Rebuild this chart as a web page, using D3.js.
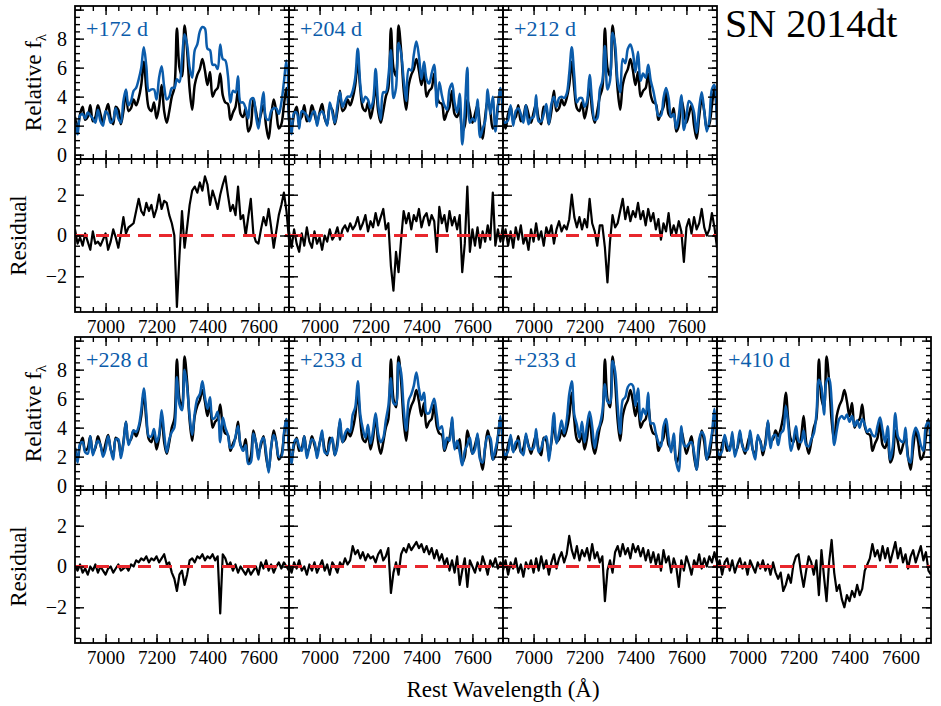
<!DOCTYPE html>
<html><head><meta charset="utf-8">
<script src="https://cdn.jsdelivr.net/npm/d3@7"></script>
<style>
body{margin:0;background:#fff}
svg{display:block}
text{font-family:"Liberation Serif","Times New Roman",serif !important;fill:#000}
</style>
</head><body>
<svg id="chart" width="941" height="706"></svg>
<script>
// ---------------- DATA ----------------
const waveStart = 6880, waveStep = 10;   // wavelength grid (Angstrom)
const epochLabels = ["+172 d", "+204 d", "+212 d", "+228 d", "+233 d", "+233 d", "+410 d"];
const xTicks = [7000, 7200, 7400, 7600];
const fluxTicks = [0, 2, 4, 6, 8];
const residTicks = [-2, 0, 2];

// SN 2014dt observed spectrum (black, same in every panel)
const sn2014dt = [2.6,1.8,2.8,3.3,2.4,2.6,3.4,2.3,2.6,3.4,2.8,2.2,2.9,3.5,2.5,2.1,3.3,3.1,2.1,3.0,
4.4,3.0,3.2,3.8,3.4,3.9,4.8,6.4,4.5,3.2,3.0,3.6,2.5,3.3,4.8,3.0,2.2,3.0,4.0,4.6,
8.7,6.0,5.4,8.9,7.2,4.5,3.1,4.8,5.5,5.9,6.6,5.8,4.8,5.7,4.0,4.4,4.6,5.6,4.1,3.6,
3.5,2.4,2.9,3.3,4.4,2.8,2.6,3.2,1.6,2.0,3.8,3.0,2.2,2.8,3.4,2.0,1.1,2.6,3.8,3.0,
1.8,2.1,3.4,4.6,2.5];

// comparison spectra (blue)
const blue172 = [2.2,1.4,2.7,2.8,2.5,2.9,2.7,2.5,2.2,3.1,2.3,2.0,3.0,2.8,2.2,2.4,3.2,2.5,2.2,3.7,
4.5,3.4,3.7,4.4,4.6,5.2,6.0,7.4,6.1,4.4,4.5,4.5,3.8,5.3,6.1,4.7,3.8,4.0,4.6,4.6,
5.2,5.0,6.6,8.3,7.6,6.0,5.3,7.2,7.6,8.5,8.8,8.7,7.3,7.2,6.2,6.2,5.9,7.6,6.6,6.5,
5.5,3.6,4.4,4.3,5.4,3.6,3.6,3.2,2.5,3.8,3.9,2.7,1.8,3.1,4.3,2.5,2.4,3.0,3.2,3.2,
2.8,3.6,5.0,6.5,2.3];
const blue204 = [2.8,1.4,2.9,2.9,1.8,3.0,2.9,2.7,2.3,2.8,3.0,2.0,2.8,3.0,2.6,2.0,3.6,2.9,2.2,3.4,
4.3,3.3,3.7,4.0,4.0,4.4,5.3,7.3,4.8,3.6,4.0,3.8,3.2,3.7,5.9,3.5,2.4,4.3,4.3,5.4,
7.2,3.9,4.6,7.7,7.0,5.2,3.7,5.9,5.8,6.9,7.8,6.8,5.2,6.4,5.2,4.9,5.6,6.2,3.3,5.0,
4.1,3.4,3.1,4.5,4.9,3.6,2.9,4.2,0.7,3.0,6.0,2.2,2.5,2.3,3.8,1.2,1.8,2.3,4.5,2.8,
4.0,1.6,3.3,4.6,3.0];
const blue212 = [2.3,2.2,2.4,3.4,2.0,3.0,3.2,2.8,2.2,3.4,2.1,2.5,2.6,4.1,2.3,2.3,2.8,3.5,2.1,3.5,
4.0,3.3,3.9,4.0,3.9,4.2,5.6,7.4,5.4,3.6,3.9,3.9,3.3,3.7,5.5,3.6,2.4,2.5,4.5,5.1,
7.5,4.5,5.1,8.4,7.6,5.1,4.3,6.6,6.3,7.3,7.6,7.0,5.7,7.1,5.1,5.6,5.3,6.2,5.1,4.4,
3.5,2.7,2.7,3.9,4.6,3.9,2.6,2.8,1.8,2.7,4.1,1.7,2.6,3.7,3.5,2.9,1.5,3.2,4.3,3.0,
1.6,2.4,4.5,4.8,2.0];
const blue228 = [2.6,1.6,2.9,3.0,2.3,2.2,3.4,2.1,2.7,3.1,2.8,2.0,2.5,3.4,2.5,1.8,3.2,3.2,1.9,2.9,
4.4,2.8,3.3,3.8,3.7,4.1,5.2,6.7,5.0,3.4,3.4,3.9,3.0,3.5,5.2,3.6,2.3,3.2,3.7,4.0,
7.5,5.6,5.2,8.0,6.8,4.8,3.5,5.0,6.0,6.3,7.2,6.1,5.3,6.1,4.6,4.7,5.1,3.0,4.7,4.0,
3.5,2.6,2.7,3.4,4.1,2.8,2.4,2.8,1.5,1.6,3.6,3.0,1.8,3.0,3.3,2.3,0.9,2.7,3.5,3.0,
2.0,2.0,3.6,4.6,2.3];
const blue233a = [2.7,1.5,3.0,3.2,2.7,2.4,3.4,1.9,2.7,3.2,3.0,1.9,2.9,3.8,2.3,2.2,2.9,3.3,2.1,2.7,
4.6,3.0,3.6,3.9,3.7,4.9,5.4,7.2,4.9,3.9,3.3,4.2,2.9,3.8,5.0,3.6,3.0,3.3,4.5,5.5,
7.4,5.7,5.6,8.5,7.8,5.4,3.8,5.9,6.3,6.9,7.8,6.7,5.9,6.4,5.0,5.0,5.5,6.0,4.9,3.9,
4.1,2.5,3.3,3.1,4.7,2.5,3.1,2.3,1.4,2.4,2.8,3.3,2.2,2.5,3.6,1.8,1.6,2.7,3.4,3.3,
1.8,2.5,3.3,4.8,2.5];
const blue233b = [2.4,2.1,2.4,3.5,2.3,3.0,3.1,2.4,2.1,3.6,2.7,2.5,2.6,3.9,2.3,2.6,3.2,3.4,1.7,3.2,
5.0,2.9,3.6,4.5,3.6,4.5,6.3,7.2,4.9,4.2,3.3,4.4,3.0,4.2,5.1,4.1,2.6,3.7,4.2,5.1,
7.0,5.8,5.7,8.6,7.9,5.5,3.6,5.9,6.1,6.8,7.0,6.9,5.5,6.7,4.5,5.3,4.9,6.4,4.3,4.3,
3.6,3.0,2.7,4.1,4.6,3.3,2.3,3.6,1.6,1.0,4.1,2.8,2.7,2.9,3.0,2.3,1.1,3.2,3.7,3.4,
1.8,2.6,3.6,5.3,2.7];
const blue410 = [2.5,2.1,2.4,3.5,2.8,2.4,3.7,2.0,2.7,3.8,2.7,2.4,2.5,3.8,2.5,1.8,3.5,3.0,2.4,2.8,
4.5,2.6,3.4,3.5,2.8,3.6,3.8,5.5,4.1,2.4,3.1,4.1,3.1,3.0,3.8,2.8,2.7,3.2,3.6,4.9,
7.3,6.8,4.9,7.2,7.4,5.8,2.8,3.8,4.6,4.8,4.6,4.9,4.4,4.8,4.1,4.5,4.0,4.6,4.2,3.7,
3.9,3.5,3.4,4.1,4.7,3.8,3.0,4.1,1.8,2.7,5.0,3.4,3.1,3.0,4.0,1.9,1.6,3.4,4.0,3.6,
2.8,2.4,4.1,4.4,2.1];

// residuals
const resid172 = [0.3,-0.4,-0.1,-0.5,0.1,-0.3,-0.7,0.2,-0.4,-0.3,-0.5,-0.2,0.1,-0.7,-0.3,0.3,-0.1,-0.6,0.1,0.9,
0.1,0.4,0.5,0.6,1.2,1.8,1.2,1.0,1.6,1.2,1.5,0.9,1.3,2.0,1.3,1.7,1.6,1.0,0.6,0.0,
-3.5,-1.0,1.2,-0.6,0.4,1.5,2.2,2.4,2.1,2.6,2.2,2.9,2.5,1.5,2.2,1.8,1.3,2.0,2.5,2.9,
2.0,1.2,1.5,1.0,2.4,0.8,1.0,0.0,0.9,1.8,0.1,-0.3,-0.4,0.3,0.9,0.5,1.3,0.4,-0.6,0.2,
1.0,1.5,2.1,1.2,-0.2];
const resid204 = [0.2,-0.6,0.3,-0.4,-0.8,0.1,-0.5,0.4,-0.3,-0.6,0.2,-0.4,-0.1,-0.7,0.0,-0.3,0.3,-0.2,0.0,0.4,
-0.2,0.3,0.5,0.2,0.6,0.3,0.5,0.9,0.3,0.6,1.0,0.2,0.7,0.4,1.1,0.5,0.9,1.3,0.3,0.6,
-1.5,-2.7,-0.8,-1.8,-0.2,1.2,0.6,1.1,0.3,1.0,0.7,1.3,0.4,0.9,1.1,0.5,1.0,0.7,-0.8,1.4,
0.6,1.0,0.2,1.2,0.5,0.9,0.3,1.0,-1.8,-0.4,2.4,-0.8,0.3,-0.5,0.4,-0.6,0.2,-0.3,0.5,-0.2,
2.1,-0.5,0.3,-0.3,0.5];
const resid212 = [-0.3,0.3,-0.5,0.2,-0.6,0.4,-0.2,0.5,-0.4,0.0,-0.7,0.3,-0.3,0.6,-0.2,0.2,-0.5,0.4,0.0,0.5,
-0.4,0.3,0.7,0.2,0.5,0.3,0.8,2.0,0.9,0.4,0.9,0.3,0.8,0.4,1.8,0.6,0.2,-0.5,0.5,0.5,
-0.6,-2.3,-0.3,1.0,0.4,0.6,1.2,1.8,0.8,1.4,0.7,1.2,0.9,1.6,0.8,1.2,0.5,1.3,0.7,1.1,
0.3,0.8,-0.2,0.6,0.2,1.1,0.0,0.5,0.1,0.7,0.2,-1.3,0.4,0.8,0.1,0.9,0.3,0.6,1.3,0.4,
0.0,0.3,1.1,0.4,-0.6];
const resid228 = [0.0,-0.2,0.1,-0.3,-0.1,-0.4,0.0,-0.2,0.1,-0.3,0.0,-0.2,-0.4,-0.1,0.0,-0.3,-0.1,0.1,-0.2,-0.1,
0.0,-0.2,0.1,0.0,0.3,0.2,0.4,0.3,0.5,0.2,0.4,0.3,0.5,0.2,0.4,0.6,0.1,0.2,-0.3,-0.6,
-1.2,-0.4,-0.2,-0.9,-0.4,0.3,0.4,0.2,0.5,0.4,0.6,0.3,0.5,0.4,0.6,0.3,0.5,-2.3,0.6,0.4,
0.0,0.2,-0.2,0.1,-0.3,0.0,-0.2,-0.4,-0.1,-0.4,-0.2,0.0,-0.4,0.2,-0.1,0.3,-0.2,0.1,-0.3,0.0,
0.2,-0.1,0.2,0.0,-0.2];
const resid233a = [0.1,-0.3,0.2,-0.1,0.3,-0.2,0.0,-0.4,0.1,-0.2,0.2,-0.3,0.0,0.3,-0.2,0.1,-0.4,0.2,0.0,-0.3,
0.2,0.0,0.4,0.1,0.3,1.0,0.6,0.8,0.4,0.7,0.3,0.6,0.4,0.5,0.2,0.6,0.8,0.3,0.5,0.9,
-1.3,-0.3,0.2,-0.4,0.6,0.9,0.7,1.1,0.8,1.0,1.2,0.9,1.1,0.7,1.0,0.6,0.9,0.4,0.8,0.3,
0.6,0.1,0.4,-0.2,0.3,-0.3,0.5,-0.9,-0.2,0.4,-1.0,0.3,0.0,-0.3,0.2,-0.2,0.5,0.1,-0.4,0.3,
0.0,0.4,-0.1,0.2,0.0];
const resid233b = [-0.2,0.3,-0.4,0.2,-0.1,0.4,-0.3,0.1,-0.5,0.2,-0.1,0.3,-0.3,0.4,-0.2,0.5,-0.1,0.3,-0.4,0.2,
0.6,-0.1,0.4,0.7,0.2,0.6,1.5,0.8,0.4,1.0,0.3,0.8,0.5,0.9,0.3,1.1,0.4,0.7,0.2,0.5,
-1.7,-0.2,0.3,-0.3,0.7,1.0,0.5,1.1,0.6,0.9,0.4,1.1,0.7,1.0,0.5,0.9,0.3,0.8,0.2,0.7,
0.1,0.6,-0.2,0.8,0.2,0.5,-0.3,0.4,0.0,-1.0,0.3,-0.2,0.5,0.1,-0.4,0.3,0.0,0.6,-0.1,0.4,
0.0,0.5,0.2,0.7,0.2];
const resid410 = [-0.1,0.3,-0.4,0.2,0.4,-0.2,0.3,-0.3,0.1,0.4,-0.1,0.2,-0.4,0.3,0.0,-0.3,0.2,-0.1,0.3,-0.2,
0.1,-0.4,0.2,-0.3,-0.6,-0.3,-1.2,-0.9,-0.4,-0.8,0.1,0.5,0.6,-0.3,-1.0,-0.2,0.5,0.2,-0.4,0.3,
-1.4,0.8,-0.5,-1.7,0.2,1.3,-0.3,-1.2,-0.9,-1.6,-2.0,-1.4,-1.7,-1.2,-1.5,-0.9,-1.4,-1.1,-0.2,0.1,
0.4,1.1,0.5,0.8,0.3,1.0,0.4,0.9,0.2,0.7,1.2,0.4,0.9,0.2,0.6,-0.1,0.5,0.8,0.2,0.6,
1.0,0.3,0.7,-0.2,-0.4];

// --------------- BUILD ----------------
const blueSeries = [blue172, blue204, blue212, blue228, blue233a, blue233b, blue410];
const residSeries = [resid172, resid204, resid212, resid228, resid233a, resid233b, resid410];
const waveAt = i => waveStart + i * waveStep;

const svg = d3.select("#chart");
const FONT = "'Liberation Serif','Times New Roman',serif";
const blueCol = "#0b5cab", redCol = "#e8272d";
const colX = [75, 289, 503, 717], panelW = 214, panelH = 153;
const rowY = [6, 337];
const layout = [[0,0],[0,1],[0,2],[1,0],[1,1],[1,2],[1,3]];

const x = d3.scaleLinear().domain([6880, 7720]);
const yF = d3.scaleLinear().domain([-0.3, 10.25]);
const yR = d3.scaleLinear().domain([-3.75, 3.75]);

const xMinor = d3.range(6900, 7720, 50);
const fMinor = d3.range(0, 10.3, 0.5);
const rMinor = d3.range(-3.5, 3.6, 0.5);

function frame(g, xs, ys, majY, minY) {
  const W = panelW, H = panelH;
  const addAxis = (axis, tr) => {
    const a = g.append("g").attr("transform", tr).call(axis);
    a.select(".domain").remove();
    a.selectAll("line").attr("stroke", "#000").attr("stroke-width", 1.4);
    a.selectAll("text").remove();
  };
  addAxis(d3.axisBottom(xs).tickValues(xTicks).tickSize(-9), `translate(0,${H})`);
  addAxis(d3.axisBottom(xs).tickValues(xMinor).tickSize(-5), `translate(0,${H})`);
  addAxis(d3.axisTop(xs).tickValues(xTicks).tickSize(-9), `translate(0,0)`);
  addAxis(d3.axisTop(xs).tickValues(xMinor).tickSize(-5), `translate(0,0)`);
  addAxis(d3.axisLeft(ys).tickValues(majY).tickSize(-9), `translate(0,0)`);
  addAxis(d3.axisLeft(ys).tickValues(minY).tickSize(-5), `translate(0,0)`);
  addAxis(d3.axisRight(ys).tickValues(majY).tickSize(-9), `translate(${W},0)`);
  addAxis(d3.axisRight(ys).tickValues(minY).tickSize(-5), `translate(${W},0)`);
  g.append("rect").attr("width", W).attr("height", H)
    .attr("fill", "none").attr("stroke", "#000").attr("stroke-width", 1.8);
}

function styleLabels(sel, size) {
  sel.attr("font-family", null);
  sel.selectAll("text").attr("font-size", size).style("font-family", FONT).style("fill", "#000");
}

layout.forEach(([row, col], p) => {
  const x0 = colX[col];
  const ySpec = rowY[row], yRes = rowY[row] + panelH;
  const xs = x.copy().range([0, panelW]);
  const yfs = yF.copy().range([panelH, 0]);
  const yrs = yR.copy().range([panelH, 0]);

  // spectrum panel
  const gS = svg.append("g").attr("transform", `translate(${x0},${ySpec})`);
  const clipS = "clipS" + p;
  gS.append("clipPath").attr("id", clipS).append("rect").attr("width", panelW).attr("height", panelH);
  const lineF = d3.line().curve(d3.curveCatmullRom.alpha(0.5))
    .x((d, i) => xs(waveAt(i))).y(d => yfs(d));
  const gl = gS.append("g").attr("clip-path", `url(#${clipS})`);
  gl.append("path").attr("d", lineF(sn2014dt)).attr("fill", "none")
    .attr("stroke", "#000").attr("stroke-width", 2.5).attr("stroke-linejoin", "round");
  gl.append("path").attr("d", lineF(blueSeries[p])).attr("fill", "none")
    .attr("stroke", blueCol).attr("stroke-width", 2.5).attr("stroke-linejoin", "round");
  frame(gS, xs, yfs, [0,2,4,6,8,10], fMinor);
  gS.append("text").attr("x", 11).attr("y", 30).attr("font-size", 22)
    .style("fill", blueCol).style("font-family", FONT).text(epochLabels[p]);

  // residual panel
  const gR = svg.append("g").attr("transform", `translate(${x0},${yRes})`);
  const clipR = "clipR" + p;
  gR.append("clipPath").attr("id", clipR).append("rect").attr("width", panelW).attr("height", panelH);
  const lineR = d3.line().x((d, i) => xs(waveAt(i))).y(d => yrs(d));
  const gr = gR.append("g").attr("clip-path", `url(#${clipR})`);
  gr.append("path").attr("d", lineR(residSeries[p])).attr("fill", "none")
    .attr("stroke", "#000").attr("stroke-width", 2.2).attr("stroke-linejoin", "round");
  gr.append("line").attr("x1", 0).attr("x2", panelW).attr("y1", yrs(0)).attr("y2", yrs(0))
    .attr("stroke", redCol).attr("stroke-width", 3.2).attr("stroke-dasharray", "13,8");
  frame(gR, xs, yrs, residTicks, rMinor);

  // x tick labels under residual panel
  const ax = gR.append("g").attr("transform", `translate(0,${panelH})`)
    .call(d3.axisBottom(xs).tickValues(xTicks).tickSize(0).tickPadding(8).tickFormat(d3.format("d")));
  ax.select(".domain").remove();
  styleLabels(ax, 19);

  if (col === 0) {
    const ayf = gS.append("g").call(d3.axisLeft(yfs).tickValues(fluxTicks).tickSize(0).tickPadding(8));
    ayf.select(".domain").remove();
    styleLabels(ayf, 20);
    const ayr = gR.append("g").call(d3.axisLeft(yrs).tickValues(residTicks).tickSize(0).tickPadding(8)
      .tickFormat(d => d < 0 ? "\u2212" + Math.abs(d) : d));
    ayr.select(".domain").remove();
    styleLabels(ayr, 20);

    const tf = svg.append("text").attr("font-size", 23).attr("text-anchor", "middle")
      .attr("transform", `translate(41,${ySpec + panelH / 2}) rotate(-90)`);
    tf.append("tspan").text("Relative f");
    tf.append("tspan").attr("font-size", 15).attr("dy", 5).text("\u03bb");
    svg.append("text").attr("font-size", 23).attr("text-anchor", "middle")
      .attr("transform", `translate(26,${yRes + panelH / 2}) rotate(-90)`).text("Residual");
  }
});

svg.append("text").attr("x", 503).attr("y", 697).attr("font-size", 23)
  .attr("text-anchor", "middle").text("Rest Wavelength (\u00c5)");
svg.append("text").attr("x", 725).attr("y", 37).attr("font-size", 40).text("SN 2014dt");
</script>
</body></html>
